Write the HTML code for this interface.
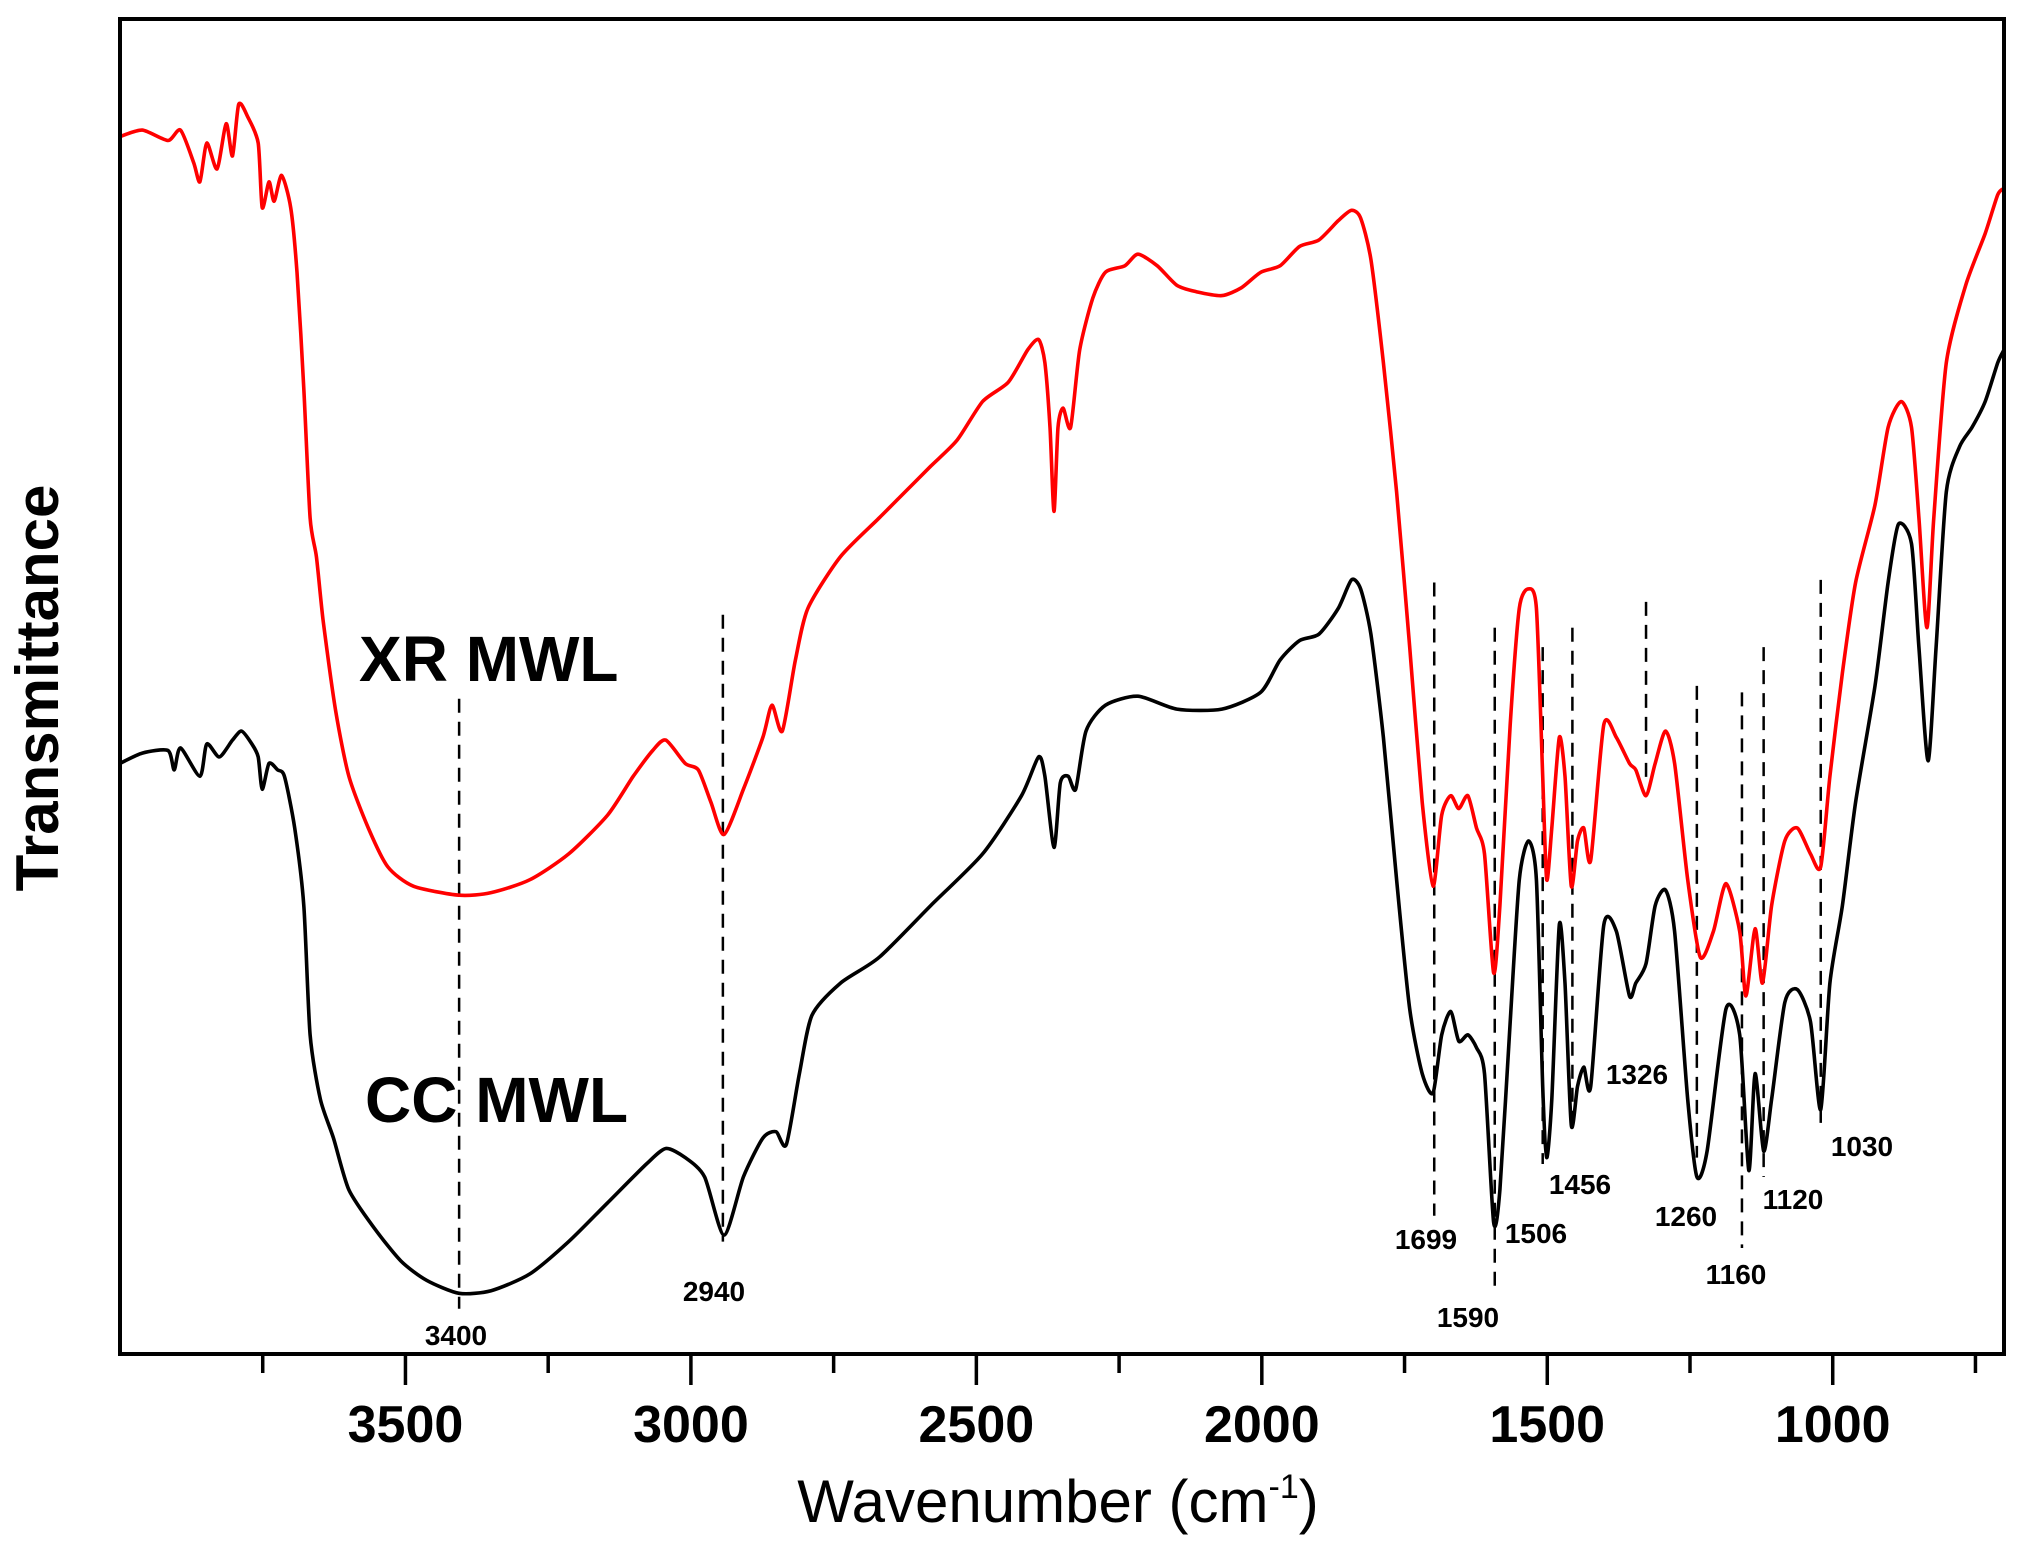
<!DOCTYPE html>
<html><head><meta charset="utf-8"><style>
html,body{margin:0;padding:0;background:#fff;}
svg text{font-family:"Liberation Sans",Arial,sans-serif;}
</style></head><body>
<svg id="chart" width="2028" height="1551" viewBox="0 0 2028 1551" xmlns="http://www.w3.org/2000/svg">
<g id="plot"></g>
</svg>
<script>
// wavenumber (cm-1) and transmittance (arbitrary, plotted depth units)
const xrWn=[4000,3961,3916,3894,3871,3860,3848,3830,3814,3803,3792,3776,3758,3751,3739,3730,3717,3701,3690,3678,3667,3656,3644,3622,3599,3565,3531,3486,3406,3350,3282,3214,3146,3101,3067,3044,3010,2987,2965,2942,2908,2874,2858,2840,2817,2795,2738,2670,2625,2580,2534,2489,2444,2410,2391,2380,2371,2364,2357,2348,2335,2319,2296,2274,2240,2217,2183,2149,2115,2070,2036,2002,1968,1934,1900,1866,1843,1827,1809,1787,1764,1741,1719,1700,1685,1669,1655,1639,1624,1610,1594,1583,1565,1549,1533,1519,1508,1501,1492,1479,1469,1458,1447,1436,1424,1401,1379,1356,1345,1327,1311,1293,1277,1254,1232,1209,1187,1163,1152,1136,1123,1107,1084,1062,1039,1021,1005,983,960,926,903,880,862,849,835,823,801,767,733,711,700];
const xrT=[105,100,108,100,125,140,110,130,95,120,80,90,110,160,140,155,135,160,210,300,400,430,480,550,600,640,670,685,692,690,680,660,630,600,580,572,590,595,620,645,610,570,545,565,510,470,430,400,380,360,340,310,295,270,262,280,330,395,330,315,330,270,230,210,205,196,205,220,225,228,222,210,205,190,185,170,162,168,200,280,380,500,620,685,630,615,625,615,640,660,752,700,560,470,455,470,600,680,640,570,600,685,650,640,665,560,570,590,595,615,590,565,590,680,740,720,683,720,770,718,760,700,650,640,660,670,600,520,450,390,330,310,330,400,485,400,280,220,180,150,145];
const ccWn=[4000,3961,3916,3905,3894,3860,3848,3826,3803,3787,3769,3758,3751,3739,3724,3712,3694,3678,3667,3649,3626,3599,3554,3508,3463,3406,3350,3282,3214,3146,3078,3044,3010,2976,2942,2908,2874,2851,2833,2810,2788,2738,2670,2580,2489,2421,2391,2380,2364,2353,2339,2326,2308,2274,2217,2149,2070,2002,1968,1934,1900,1866,1843,1827,1809,1787,1764,1741,1719,1700,1685,1669,1655,1639,1624,1610,1594,1583,1565,1549,1533,1519,1508,1501,1492,1479,1469,1458,1447,1436,1424,1401,1379,1356,1345,1327,1311,1293,1277,1254,1238,1220,1187,1163,1147,1136,1121,1107,1084,1062,1039,1021,1005,983,960,926,903,885,862,849,833,819,801,778,756,733,711,700];
const ccT=[590,582,580,595,578,600,575,585,572,565,575,585,610,590,595,600,640,700,800,850,880,920,950,975,990,1000,998,985,960,930,900,888,895,910,955,910,880,875,885,830,785,760,740,700,660,615,585,600,655,605,600,610,565,545,538,548,548,535,510,495,490,470,448,455,490,570,680,780,830,845,800,782,805,800,810,830,945,920,790,680,650,680,840,895,850,715,760,870,840,825,840,715,720,770,760,745,700,688,720,850,910,890,780,800,905,830,890,850,775,765,790,858,760,700,620,530,450,405,420,500,588,500,380,345,330,310,280,270];
// annotation peaks
const peakWn=[3406,2944,1698,1592,1508,1456,1327,1238,1159,1121,1021];
const peakTop=[540,475,450,485,500,485,465,530,535,500,448];
const peakBot=[1012,960,940,995,900,870,605,895,965,910,870];
const peakLabels=["3400","2940","1699","1590","1506","1456","1326","1260","1160","1120","1030"];
const labelX=[456,714,1426,1468,1536,1580,1637,1686,1736,1793,1862];
const labelY=[1345,1301,1249,1327,1243,1194,1084,1226,1284,1209,1156];
const majorTicks=[3500,3000,2500,2000,1500,1000];
const minorTicks=[3750,3250,2750,2250,1750,1250,750];

const L=120,R=2004,T=19,B=1354;
function xScale(w){return L+(4000-w)/(4000-700)*(R-L);}
function yScale(v){return B+(v-1047)/(14-1047)*(T-B);}
const NS="http://www.w3.org/2000/svg";
const svg=document.getElementById('chart');
function mk(tag,attrs,parent){const e=document.createElementNS(NS,tag);for(const k in attrs)e.setAttribute(k,attrs[k]);(parent||svg).appendChild(e);return e;}

function path(wn,t,color,name){
  const P=wn.map((w,i)=>[xScale(w),yScale(t[i])]);
  let d='M'+P[0][0].toFixed(1)+','+P[0][1].toFixed(1);
  const k=0.12;
  for(let i=0;i<P.length-1;i++){
    const p0=P[Math.max(0,i-1)],p1=P[i],p2=P[i+1],p3=P[Math.min(P.length-1,i+2)];
    const c1=[p1[0]+(p2[0]-p0[0])*k,p1[1]+(p2[1]-p0[1])*k];
    const c2=[p2[0]-(p3[0]-p1[0])*k,p2[1]-(p3[1]-p1[1])*k];
    d+='C'+c1[0].toFixed(1)+','+c1[1].toFixed(1)+' '+c2[0].toFixed(1)+','+c2[1].toFixed(1)+' '+p2[0].toFixed(1)+','+p2[1].toFixed(1);
  }
  const p=mk('path',{d:d,fill:'none',stroke:color,'stroke-width':3.6,'stroke-linejoin':'round'});
  
  
}
// dashed lines
for(let i=0;i<peakWn.length;i++){
  const x=xScale(peakWn[i]);
  const l=mk('line',{x1:x,x2:x,y1:yScale(peakTop[i]),y2:yScale(peakBot[i]),stroke:'#000','stroke-width':2.5,'stroke-dasharray':'14,9'});
  
  
  const t=mk('text',{x:labelX[i],y:labelY[i],'font-size':28,'font-weight':'bold','text-anchor':'middle',fill:'#000'});
  t.textContent=peakLabels[i];
  
  
}
path(xrWn,xrT,'#ff0000','xr-mwl-series');
path(ccWn,ccT,'#000000','cc-mwl-series');
// frame
const fr=mk('rect',{x:L,y:T,width:R-L,height:B-T,fill:'none',stroke:'#000','stroke-width':4});


majorTicks.forEach(w=>{
  const x=xScale(w);
  const tk=mk('line',{x1:x,x2:x,y1:B,y2:B+31,stroke:'#000','stroke-width':3.5});
  
  
  const t=mk('text',{x:x,y:1442,'font-size':52,'font-weight':'bold','text-anchor':'middle',fill:'#000'});
  t.textContent=w;
  
  
});
minorTicks.forEach(w=>{
  const x=xScale(w);
  const tk=mk('line',{x1:x,x2:x,y1:B,y2:B+19,stroke:'#000','stroke-width':3.5});
  
  
});
function txt(s,attrs,name){const t=mk('text',attrs);t.textContent=s;return t;}
const xt=txt('Wavenumber (cm',{x:1058,y:1522,'font-size':60,'text-anchor':'middle',fill:'#000'},'x-axis-title');
const sup=mk('tspan',{dy:-24,'font-size':34},xt);sup.textContent='-1';
const cl=mk('tspan',{dy:24},xt);cl.textContent=')';
txt('Transmittance',{x:0,y:0,'font-size':60,'font-weight':'bold','text-anchor':'middle',fill:'#000',transform:'translate(58,688) rotate(-90)'},'y-axis-title');
txt('XR MWL',{x:359,y:681,'font-size':64,'font-weight':'bold',fill:'#000'},'xr-mwl-label');
txt('CC MWL',{x:365,y:1122,'font-size':64,'font-weight':'bold',fill:'#000'},'cc-mwl-label');
</script>
</body></html>
